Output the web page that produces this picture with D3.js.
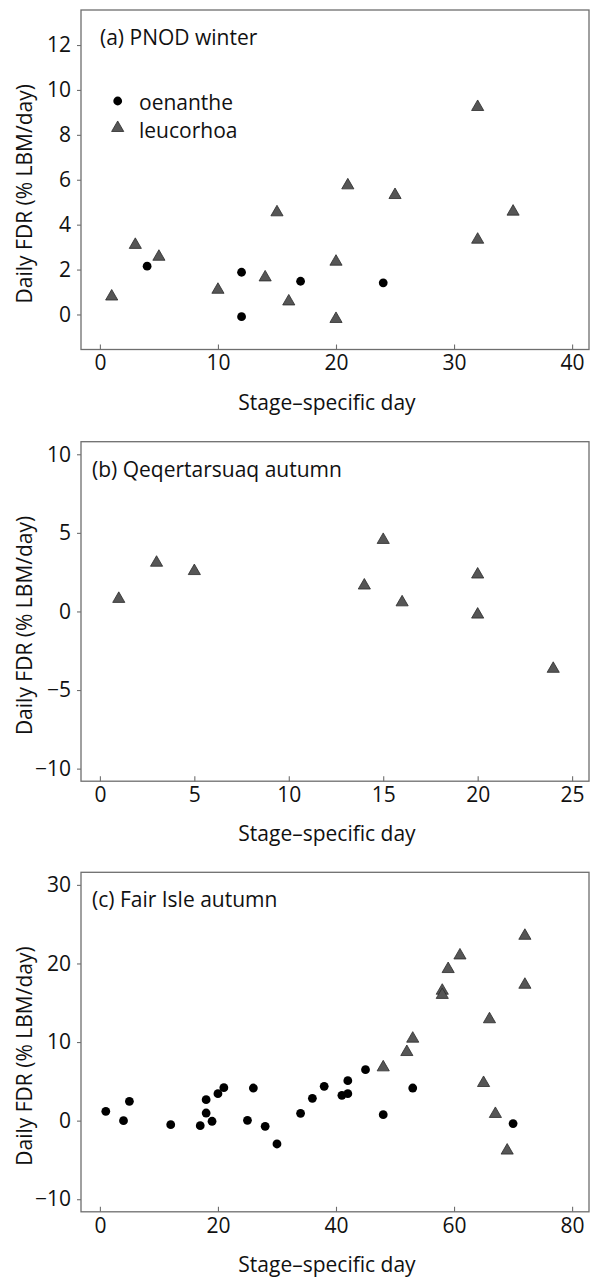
<!DOCTYPE html>
<html>
<head>
<meta charset="utf-8">
<script src="https://cdn.jsdelivr.net/npm/d3@7"></script>
<style>
  html, body { margin: 0; padding: 0; background: #fff; }
  svg { display: block; }
  text { font-family: "Open Sans", "Noto Sans", sans-serif; fill: #111; }
</style>
</head>
<body>
<svg id="chart" width="590" height="1278"></svg>
<script>
// (a) PNOD winter
const pnodOenantheDay = [4, 12, 12, 17, 24];
const pnodOenantheFdr = [2.15, 1.88, -0.1, 1.48, 1.41];
const pnodLeucorhoaDay = [1, 3, 5, 10, 14, 15, 16, 20, 20, 21, 25, 32, 32, 35];
const pnodLeucorhoaFdr = [0.8, 3.1, 2.57, 1.1, 1.65, 4.55, 0.58, 2.35, -0.2, 5.75, 5.32, 9.24, 3.33, 4.58];

// (b) Qeqertarsuaq autumn
const qeqLeucorhoaDay = [1, 3, 5, 14, 15, 16, 20, 20, 24];
const qeqLeucorhoaFdr = [0.8, 3.1, 2.57, 1.65, 4.55, 0.58, 2.35, -0.2, -3.65];

// (c) Fair Isle autumn
const fairOenantheDay = [1, 4, 5, 12, 17, 18, 18, 19, 20, 21, 25, 26, 28, 30, 34, 36, 38, 41, 42, 42, 45, 48, 53, 70];
const fairOenantheFdr = [1.18, 0, 2.46, -0.51, -0.64, 2.67, 0.97, -0.08, 3.43, 4.2, 0.04, 4.15, -0.72, -2.97, 0.93, 2.84, 4.37, 3.22, 3.43, 5.09, 6.49, 0.76, 4.15, -0.38];
const fairLeucorhoaDay = [48, 52, 53, 58, 58, 59, 61, 65, 66, 67, 69, 72, 72];
const fairLeucorhoaFdr = [6.78, 8.73, 10.43, 16.53, 16.0, 19.29, 21.02, 4.79, 12.9, 0.85, -3.81, 23.52, 17.29];

// Axis limits and tick labels
const aXLim = [0, 40], aYLim = [-1, 13];
const bXLim = [0, 25], bYLim = [-10, 10];
const cXLim = [0, 80], cYLim = [-10, 30];
const aXTicks = [0, 10, 20, 30, 40], aYTicks = [0, 2, 4, 6, 8, 10, 12];
const bXTicks = [0, 5, 10, 15, 20, 25], bYTicks = [-10, -5, 0, 5, 10];
const cXTicks = [0, 20, 40, 60, 80], cYTicks = [-10, 0, 10, 20, 30];

const panelTitles = ["(a) PNOD winter", "(b) Qeqertarsuaq autumn", "(c) Fair Isle autumn"];
const legendLabels = ["oenanthe", "leucorhoa"];
const xTitle = "Stage\u2013specific day";
const yTitle = "Daily FDR (% LBM/day)";

const panels = [
  { title: panelTitles[0], xLim: aXLim, yLim: aYLim, xTicks: aXTicks, yTicks: aYTicks,
    oen: d3.zip(pnodOenantheDay, pnodOenantheFdr), leu: d3.zip(pnodLeucorhoaDay, pnodLeucorhoaFdr),
    top: 10, titleX: 100, legend: true },
  { title: panelTitles[1], xLim: bXLim, yLim: bYLim, xTicks: bXTicks, yTicks: bYTicks,
    oen: [], leu: d3.zip(qeqLeucorhoaDay, qeqLeucorhoaFdr),
    top: 441.7, titleX: 92, legend: false },
  { title: panelTitles[2], xLim: cXLim, yLim: cYLim, xTicks: cXTicks, yTicks: cYTicks,
    oen: d3.zip(fairOenantheDay, fairOenantheFdr), leu: d3.zip(fairLeucorhoaDay, fairLeucorhoaFdr),
    top: 872.3, titleX: 92, legend: false }
];

const svg = d3.select("#chart");
const left = 81, rangeRight = 591, frameRight = 589, plotH = 339.5;
const fontSize = "21px";
const frameColor = "#6e6e6e";
const tri = d3.symbol().type(d3.symbolTriangle).size(64);
const fmt = v => (v < 0 ? "\u2212" + Math.abs(v) : String(v));

// pad an axis range by 4% on each side
const pad = ([lo, hi]) => { const p = (hi - lo) * 0.04; return [lo - p, hi + p]; };

panels.forEach(p => {
  const top = p.top, bottom = top + plotH;
  const x = d3.scaleLinear().domain(pad(p.xLim)).range([left, rangeRight]);
  const y = d3.scaleLinear().domain(pad(p.yLim)).range([bottom, top]);
  const g = svg.append("g");

  // frame
  g.append("rect")
    .attr("x", left).attr("y", top)
    .attr("width", frameRight - left).attr("height", plotH)
    .attr("fill", "none").attr("stroke", frameColor).attr("stroke-width", 1.3);

  // axes
  const xAxis = d3.axisBottom(x).tickValues(p.xTicks).tickSize(4).tickPadding(4).tickFormat(fmt);
  const yAxis = d3.axisLeft(y).tickValues(p.yTicks).tickSize(4).tickPadding(6).tickFormat(fmt);
  const gx = g.append("g").attr("transform", `translate(0,${bottom})`).call(xAxis);
  const gy = g.append("g").attr("transform", `translate(${left},0)`).call(yAxis);
  [gx, gy].forEach(a => {
    a.select(".domain").remove();
    a.selectAll(".tick line").attr("stroke", frameColor).attr("stroke-width", 1.1);
    a.selectAll(".tick text").style("font-size", fontSize).style("font-family", "'Open Sans', sans-serif").attr("fill", "#111");
  });
  // x ticks sit inside the frame line (drawn upward from the axis)
  gx.selectAll(".tick line").attr("y2", -5);
  gx.selectAll(".tick text").attr("dy", "0.71em").attr("y", 6);

  // axis titles
  g.append("text")
    .attr("x", 327).attr("y", bottom + 60)
    .attr("text-anchor", "middle").style("font-size", fontSize)
    .text(xTitle);
  g.append("text")
    .attr("transform", `translate(32,${(top + bottom) / 2 + 14}) rotate(-90)`)
    .attr("text-anchor", "middle").style("font-size", fontSize)
    .text(yTitle);

  // panel title
  g.append("text")
    .attr("x", p.titleX).attr("y", top + 35)
    .style("font-size", fontSize)
    .text(p.title);

  // points
  g.append("g").selectAll("circle").data(p.oen).join("circle")
    .attr("cx", d => x(d[0])).attr("cy", d => y(d[1]))
    .attr("r", 4.4).attr("fill", "#000");
  g.append("g").selectAll("path").data(p.leu).join("path")
    .attr("d", tri)
    .attr("transform", d => `translate(${x(d[0])},${y(d[1])})`)
    .attr("fill", "#565656").attr("stroke", "#2b2b2b").attr("stroke-width", 0.8);

  // legend
  if (p.legend) {
    const lg = g.append("g");
    lg.append("circle").attr("cx", 117.7).attr("cy", 101).attr("r", 4.4).attr("fill", "#000");
    lg.append("path").attr("d", tri).attr("transform", "translate(117.7,128)")
      .attr("fill", "#565656").attr("stroke", "#2b2b2b").attr("stroke-width", 0.8);
    lg.append("text").attr("x", 139).attr("y", 110).style("font-size", fontSize).text(legendLabels[0]);
    lg.append("text").attr("x", 139).attr("y", 138).style("font-size", fontSize).text(legendLabels[1]);
  }
});
</script>
</body>
</html>
